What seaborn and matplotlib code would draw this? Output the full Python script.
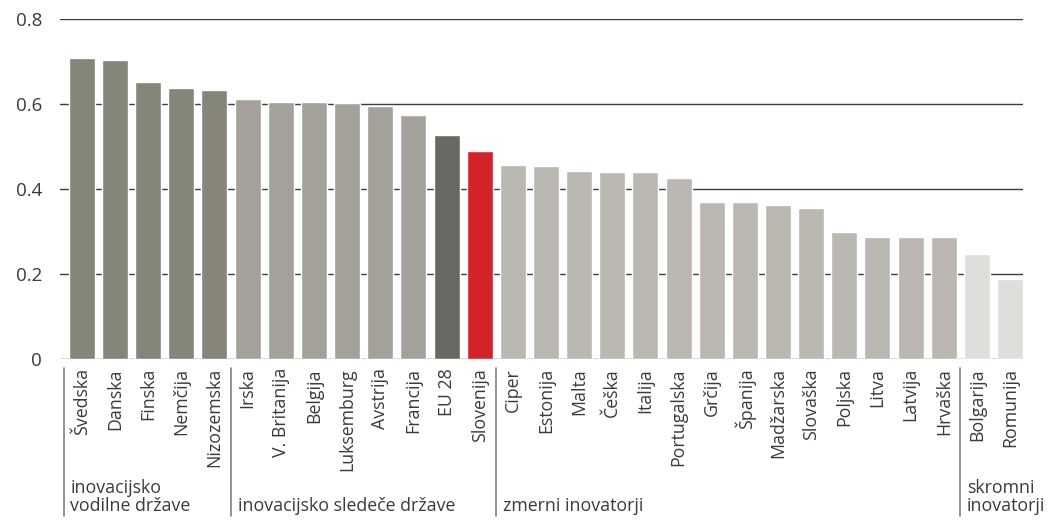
import matplotlib
matplotlib.use("Agg")
import matplotlib.pyplot as plt
import matplotlib.transforms as mtransforms
import seaborn as sns

countries = ["Švedska", "Danska", "Finska", "Nemčija", "Nizozemska",
             "Irska", "V. Britanija", "Belgija", "Luksemburg", "Avstrija",
             "Francija", "EU 28", "Slovenija",
             "Ciper", "Estonija", "Malta", "Češka", "Italija", "Portugalska",
             "Grčija", "Španija", "Madžarska", "Slovaška", "Poljska", "Litva",
             "Latvija", "Hrvaška",
             "Bolgarija", "Romunija"]
values = [0.708, 0.704, 0.652, 0.638, 0.633,
          0.612, 0.605, 0.605, 0.602, 0.595,
          0.574, 0.527, 0.489,
          0.456, 0.454, 0.442, 0.440, 0.440, 0.426,
          0.369, 0.369, 0.362, 0.355, 0.299, 0.287,
          0.287, 0.287,
          0.247, 0.188]
groups = ["vodilne"] * 5 + ["sledece"] * 6 + ["eu"] + ["slo"] + ["zmerni"] * 14 + ["skromni"] * 2
group_colors = {"vodilne": "#85857a", "sledece": "#a3a199", "eu": "#686960",
                "slo": "#d2232a", "zmerni": "#bab8b1", "skromni": "#dfdedb"}
group_labels = ["inovacijsko\nvodilne države", "inovacijsko sledeče države",
                "zmerni inovatorji", "skromni\ninovatorji"]
separators = [-0.55, 4.5, 12.5, 26.5]
yticks = [0, 0.2, 0.4, 0.6, 0.8]
ytick_labels = ["0", "0.2", "0.4", "0.6", "0.8"]

sns.set_style("white")
plt.rcParams["font.family"] = ["Open Sans", "DejaVu Sans"]

fig = plt.figure(figsize=(10.56, 5.2), dpi=100)
ax = fig.add_axes([60 / 1056, 1 - 359 / 520, (1023 - 60) / 1056, 340 / 520])

palette = [group_colors[g] for g in groups]
sns.barplot(x=countries, y=values, hue=countries, palette=palette, legend=False,
            width=0.785, saturation=1, ax=ax, zorder=3)

ax.set_xlim(-0.66, 28.39)
ax.set_ylim(0, 0.8)
ax.set_yticks(yticks)
ax.set_yticklabels(ytick_labels, fontsize=13.5, color="#3a3a3a")
ax.yaxis.grid(True, color="#3c3c3c", lw=1, zorder=0)
ax.set_axisbelow(True)
for s in ax.spines.values():
    s.set_visible(False)
ax.tick_params(axis="both", length=0)
ax.tick_params(axis="y", pad=13)
ax.tick_params(axis="x", pad=6.5)
ax.set_xlabel("")
ax.set_ylabel("")
ax.set_xticks(range(len(countries)))
ax.set_xticklabels(countries, rotation=90, fontsize=12.8, color="#3a3a3a")
for lab in ax.get_xticklabels():
    lab.set_clip_on(False)

trans = mtransforms.blended_transform_factory(ax.transData, ax.transAxes)
y_top = -(368 - 359) / 340
y_bot = -(516 - 359) / 340
for xs, lab in zip(separators, group_labels):
    ax.plot([xs, xs], [y_top, y_bot], color="#808080", lw=1.2, transform=trans, clip_on=False)
    ax.text(xs + 0.2, y_bot + 0.004, lab, transform=trans, ha="left", va="bottom",
            fontsize=12.8, color="#3a3a3a", linespacing=1.0)

fig.savefig("out.png", dpi=100)
